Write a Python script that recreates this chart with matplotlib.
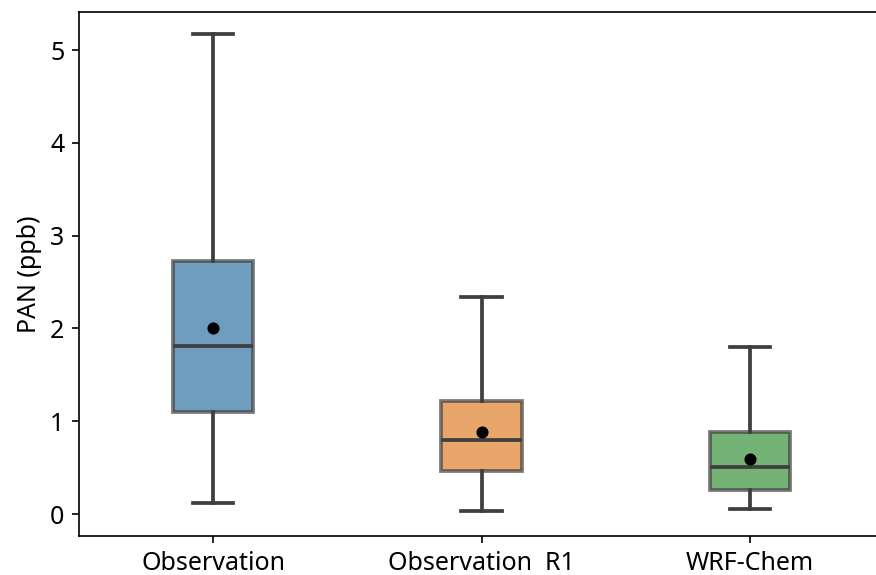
import matplotlib
matplotlib.use("Agg")
import matplotlib.pyplot as plt
from matplotlib.colors import to_rgba

categories = ["Observation", "Observation  R1", "WRF-Chem"]
whisker_low = [0.12, 0.03, 0.05]
q1 = [1.10, 0.46, 0.26]
median = [1.81, 0.80, 0.51]
q3 = [2.73, 1.22, 0.88]
whisker_high = [5.17, 2.34, 1.80]
means = [2.00, 0.88, 0.59]
colors = ["#3274a1", "#e1812c", "#3a923a"]
ylabel = "PAN (ppb)"

plt.rcParams["font.family"] = ["Noto Sans", "DejaVu Sans"]
plt.rcParams["font.size"] = 12

fig = plt.figure(figsize=(876 / 150, 575 / 150), dpi=150)
ax = fig.add_axes([79 / 876, 1 - 536 / 575, 805 / 876, 524 / 575])

stats = []
for i, name in enumerate(categories):
    stats.append(dict(label=name, whislo=whisker_low[i], q1=q1[i], med=median[i],
                      q3=q3[i], whishi=whisker_high[i], mean=means[i], fliers=[]))

line_col = "#3f3f3f"
lw = 1.8
bp = ax.bxp(stats, positions=range(len(categories)), widths=0.3, patch_artist=True,
            showmeans=True, showfliers=False,
            whiskerprops=dict(color=line_col, linewidth=lw),
            capprops=dict(color=line_col, linewidth=lw),
            medianprops=dict(color=line_col, linewidth=lw),
            meanprops=dict(marker="o", markerfacecolor="black", markeredgecolor="black",
                           markersize=4.8))
for patch, c in zip(bp["boxes"], colors):
    patch.set_facecolor(to_rgba(c, 0.7))
    patch.set_edgecolor(to_rgba(line_col, 0.7))
    patch.set_linewidth(lw)

ax.spines["right"].set_visible(False)
ax.set_xlim(-0.5, len(categories) - 0.5)
ax.set_ylim(-0.237, 5.41)
ax.set_yticks([0, 1, 2, 3, 4, 5])
ax.set_xticks(range(len(categories)))
ax.set_xticklabels(categories)
ax.set_ylabel(ylabel)

fig.savefig("out.png", dpi=150)
